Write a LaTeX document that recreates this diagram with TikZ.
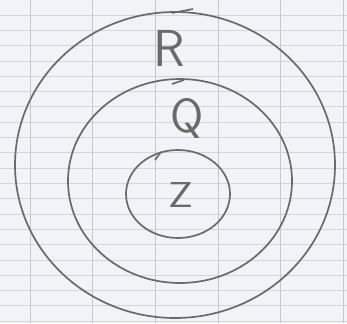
\documentclass[tikz,border=0pt]{standalone}
\usepackage{tikz}
\definecolor{paper}{HTML}{F1F3F6}
\definecolor{gridv}{HTML}{C4C8CE}
\definecolor{gridh}{HTML}{D3D7DD}
\definecolor{pencil}{HTML}{6A6A6A}
\tikzset{
  ring/.style={draw=pencil, line width=1.7pt},
  lbl/.style={text=pencil, inner sep=0pt}
}
\begin{document}
\begin{tikzpicture}[x=1pt,y=-1pt]
\fill[paper] (0,0) rectangle (347,323);
\useasboundingbox (0,0) rectangle (347,323);
% grid paper
\foreach \y in {0,...,21} {\draw[gridh, line width=0.6pt] (0,{15+15.3*\y}) -- (347,{15+15.3*\y});}
\foreach \x in {30,92,155,218,280,343} {\draw[gridv, line width=0.7pt] (\x,0) -- (\x,323);}
% rings
\draw[ring] (175,165) ellipse [x radius=160, y radius=153];
\draw[ring] (180,181) ellipse [x radius=112, y radius=102];
\draw[ring] (178,194) ellipse [x radius=52, y radius=44];
% pencil overlaps
\coordinate (t1a) at (172,13); \coordinate (t1b) at (193,9);
\coordinate (t2a) at (172,84); \coordinate (t2b) at (184,80);
\coordinate (t3a) at (155,160); \coordinate (t3b) at (161,152);
\draw[ring] (t1a) -- (t1b);
\draw[ring] (t2a) -- (t2b);
\draw[ring] (t3a) -- (t3b);
% labels
\node[lbl, font=\sffamily\fontsize{52}{52}\selectfont] (R) at (169,48) {R};
\node[lbl, font=\sffamily\fontsize{48}{48}\selectfont] (Q) at (187,118) {Q};
\node[lbl, font=\sffamily\fontsize{36}{36}\selectfont, xscale=1.2] (Z) at (181,195) {Z};
\end{tikzpicture}
\end{document}
